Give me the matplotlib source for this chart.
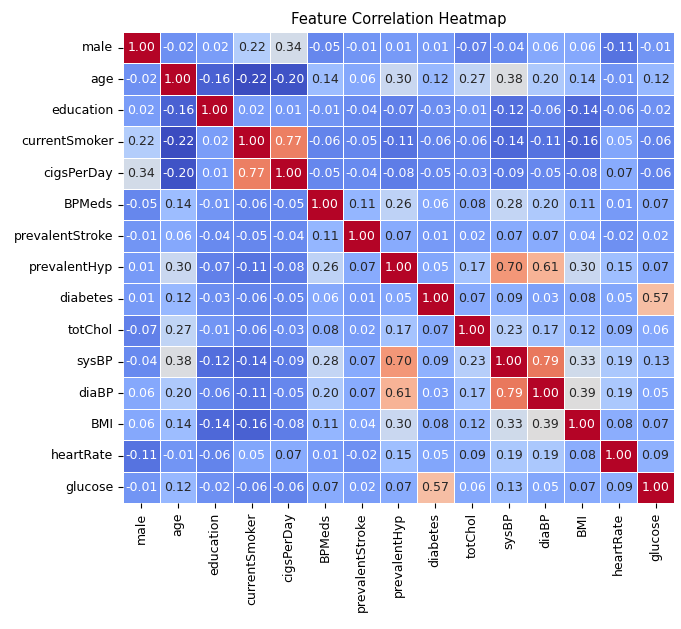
import numpy as np
import pandas as pd
import seaborn as sns
import matplotlib.pyplot as plt

features = ['male', 'age', 'education', 'currentSmoker', 'cigsPerDay', 'BPMeds',
            'prevalentStroke', 'prevalentHyp', 'diabetes', 'totChol', 'sysBP',
            'diaBP', 'BMI', 'heartRate', 'glucose']

# correlation rows
male = [1.00, -0.02, 0.02, 0.22, 0.34, -0.05, -0.01, 0.01, 0.01, -0.07, -0.04, 0.06, 0.06, -0.11, -0.01]
age = [-0.02, 1.00, -0.16, -0.22, -0.20, 0.14, 0.06, 0.30, 0.12, 0.27, 0.38, 0.20, 0.14, -0.01, 0.12]
education = [0.02, -0.16, 1.00, 0.02, 0.01, -0.01, -0.04, -0.07, -0.03, -0.01, -0.12, -0.06, -0.14, -0.06, -0.02]
currentSmoker = [0.22, -0.22, 0.02, 1.00, 0.77, -0.06, -0.05, -0.11, -0.06, -0.06, -0.14, -0.11, -0.16, 0.05, -0.06]
cigsPerDay = [0.34, -0.20, 0.01, 0.77, 1.00, -0.05, -0.04, -0.08, -0.05, -0.03, -0.09, -0.05, -0.08, 0.07, -0.06]
BPMeds = [-0.05, 0.14, -0.01, -0.06, -0.05, 1.00, 0.11, 0.26, 0.06, 0.08, 0.28, 0.20, 0.11, 0.01, 0.07]
prevalentStroke = [-0.01, 0.06, -0.04, -0.05, -0.04, 0.11, 1.00, 0.07, 0.01, 0.02, 0.07, 0.07, 0.04, -0.02, 0.02]
prevalentHyp = [0.01, 0.30, -0.07, -0.11, -0.08, 0.26, 0.07, 1.00, 0.05, 0.17, 0.70, 0.61, 0.30, 0.15, 0.07]
diabetes = [0.01, 0.12, -0.03, -0.06, -0.05, 0.06, 0.01, 0.05, 1.00, 0.07, 0.09, 0.03, 0.08, 0.05, 0.57]
totChol = [-0.07, 0.27, -0.01, -0.06, -0.03, 0.08, 0.02, 0.17, 0.07, 1.00, 0.23, 0.17, 0.12, 0.09, 0.06]
sysBP = [-0.04, 0.38, -0.12, -0.14, -0.09, 0.28, 0.07, 0.70, 0.09, 0.23, 1.00, 0.79, 0.33, 0.19, 0.13]
diaBP = [0.06, 0.20, -0.06, -0.11, -0.05, 0.20, 0.07, 0.61, 0.03, 0.17, 0.79, 1.00, 0.39, 0.19, 0.05]
BMI = [0.06, 0.14, -0.14, -0.16, -0.08, 0.11, 0.04, 0.30, 0.08, 0.12, 0.33, 0.39, 1.00, 0.08, 0.07]
heartRate = [-0.11, -0.01, -0.06, 0.05, 0.07, 0.01, -0.02, 0.15, 0.05, 0.09, 0.19, 0.19, 0.08, 1.00, 0.09]
glucose = [-0.01, 0.12, -0.02, -0.06, -0.06, 0.07, 0.02, 0.07, 0.57, 0.06, 0.13, 0.05, 0.07, 0.09, 1.00]

rows = [male, age, education, currentSmoker, cigsPerDay, BPMeds, prevalentStroke,
        prevalentHyp, diabetes, totChol, sysBP, diaBP, BMI, heartRate, glucose]
corr = pd.DataFrame(np.array(rows), index=features, columns=features)

fig = plt.figure(figsize=(6.81, 6.29), dpi=100)
ax = fig.add_axes([0.1806, 0.2003, 0.809, 0.749])
sns.heatmap(corr, annot=True, fmt='.2f', cmap='coolwarm', cbar=False,
            linewidths=0.5, linecolor='white', annot_kws={'size': 9}, ax=ax)
ax.set_title('Feature Correlation Heatmap', fontsize=10.6, pad=6)
ax.tick_params(axis='both', labelsize=9)
plt.xticks(rotation=90)
plt.yticks(rotation=0)
fig.savefig('out.png', dpi=100)
